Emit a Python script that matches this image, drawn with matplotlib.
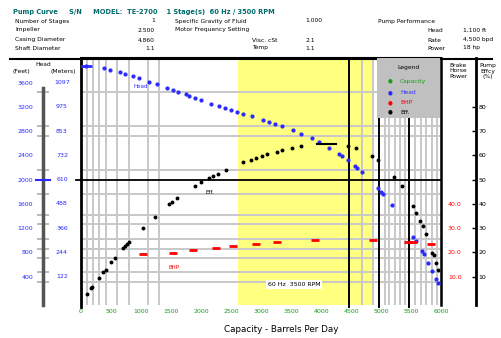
import numpy as np
import matplotlib
matplotlib.use("Agg")
import matplotlib.pyplot as plt
import matplotlib.transforms as mtrans
from matplotlib.patches import Rectangle

# Capacity (bpd) vs head (ft)
head_q = [80, 388, 483, 650, 733, 872, 967, 1133, 1272, 1438, 1538, 1612, 1745,
          1805, 1905, 2000, 2172, 2305, 2405, 2505, 2605, 2708, 2845, 3038, 3138,
          3238, 3345, 3538, 3667, 3845, 3972, 4138, 4305, 4345, 4445, 4567, 4605,
          4678, 4945, 4995, 5038, 5178, 5538, 5578, 5678, 5717, 5788, 5845, 5917, 5955]
head_ft = [3876, 3838, 3810, 3782, 3744, 3711, 3673, 3617, 3579, 3508, 3480, 3452, 3414,
           3377, 3344, 3315, 3250, 3217, 3188, 3151, 3113, 3081, 3052, 2986, 2948,
           2915, 2887, 2821, 2750, 2694, 2618, 2519, 2420, 2392, 2326, 2227, 2189,
           2123, 1859, 1803, 1765, 1584, 1061, 995, 830, 775, 632, 500, 368, 302]

# Efficiency (%)
eff_q = [95, 167, 188, 300, 372, 412, 500, 567, 705, 733, 772, 805, 1038, 1233, 1472,
         1512, 1605, 1900, 2000, 2133, 2205, 2278, 2412, 2705, 2838, 2912, 3012, 3105,
         3262, 3345, 3512, 3667, 4455, 4583, 4845, 4945, 5222, 5345, 5538, 5578, 5650,
         5695, 5750, 5845, 5883, 5917, 5945]
eff_pct = [2.8, 5.2, 5.9, 9.4, 11.8, 12.8, 16.0, 17.6, 21.7, 22.7, 23.5, 24.5, 30.0, 34.8,
           39.9, 40.7, 42.4, 47.4, 48.9, 50.8, 51.5, 52.2, 54.0, 57.2, 58.1, 58.8, 59.8,
           60.6, 61.4, 62.3, 63.0, 63.9, 63.9, 63.0, 59.8, 58.1, 51.3, 47.4, 39.2, 36.4,
           33.1, 30.9, 27.5, 19.9, 19.0, 15.5, 12.8]
bep_q = [3928, 4250]
bep_eff = 64.6

# Brake horsepower
pow_q = [1025, 1533, 1872, 2250, 2538, 2917, 3267, 3908, 4872, 5450, 5525, 5833]
pow_hp = [19.3, 19.9, 20.9, 21.7, 22.6, 23.4, 24.2, 25.0, 25.0, 24.5, 24.5, 23.5]

x_ticks = list(range(0, 6001, 500))
ft_ticks = [400, 800, 1200, 1600, 2000, 2400, 2800, 3200, 3600]
m_labels = ["122", "244", "366", "488", "610", "732", "853", "975", "1097"]
eff_ticks = [10, 20, 30, 40, 50, 60, 70, 80]
pow_ticks = [10, 20, 30, 40]
pow_labels = ["10.0", "20.0", "30.0", "40.0"]

grid_ft = [313, 478, 709, 858, 1023, 1270, 1419, 1765, 2161, 2722, 2887, 3447]
grid_q = [100, 200, 300, 417, 600, 800, 1117, 1300, 4683, 4867, 5067, 5133, 5233,
          5317, 5400, 5567, 5667, 5750, 5850, 5933]
black_q = [4467, 4967, 5467]
yellow_range = (2617, 4867)

W, H = 501, 338
fig = plt.figure(figsize=(W / 100, H / 100), dpi=100)


def px(x, y):
    return x / W, 1 - y / H


ax = fig.add_axes([81 / W, 1 - 305 / H, 360 / W, 247 / H])
ax.set_xlim(0, 6000)
ax.set_ylim(-66, 4008)

ax.axvspan(*yellow_range, color="#ffff80", zorder=0, lw=0)
for g in grid_ft:
    ax.axhline(g, color="#c8c8c8", lw=1.4, zorder=1)
for g in grid_q:
    ax.axvline(g, color="#c8c8c8", lw=1.4, zorder=1)
for g in black_q:
    ax.axvline(g, ymin=-0.01, color="black", lw=1.4, zorder=2, clip_on=False)
ax.axhline(1996, xmin=-0.014, color="black", lw=1.3, zorder=2, clip_on=False)
ax.axvline(0, ymin=-0.01, color="black", lw=2, zorder=3, clip_on=False)

ax.plot(head_q, head_ft, "o", color="#2a2aff", ms=2, zorder=4)
ax.plot(head_q[:1], head_ft[:1], "_", color="#2a2aff", ms=8, mew=2, zorder=4)

# efficiency axis
ae = ax.twinx()
ae.set_ylim(-66 / 40, 4008 / 40)
ae.plot(eff_q, eff_pct, "o", color="black", ms=1.8, zorder=4)
ae.plot(bep_q, [bep_eff, bep_eff], color="black", lw=1.5)
ae.plot(pow_q, pow_hp, "_", color="#ff0000", ms=6, mew=2)
for s in ["left", "top", "bottom"]:
    ae.spines[s].set_visible(False)
ae.spines["right"].set_position(("outward", 35 * 0.72))
ae.spines["right"].set_linewidth(2)
ae.spines["right"].set_bounds(-1.65, 100)
ae.set_yticks(eff_ticks)
ae.set_yticklabels([str(v) for v in eff_ticks])
ae.tick_params(axis="y", direction="in", length=3, width=1, labelsize=4.5, pad=2)

# power labels
ap = ax.twinx()
ap.set_ylim(-66 / 40, 4008 / 40)
for s in ap.spines.values():
    s.set_visible(False)
ap.set_yticks(pow_ticks)
ap.set_yticklabels(pow_labels)
ap.tick_params(axis="y", length=0, labelsize=4.5, labelcolor="#ff0000", pad=5)

# main frame
for s in ["bottom"]:
    ax.spines[s].set_visible(False)
ax.spines["top"].set_linewidth(1.5)
ax.spines["right"].set_linewidth(1.8)
ax.spines["left"].set_position(("outward", 38 * 0.72))
ax.spines["left"].set_color("#555555")
ax.spines["left"].set_linewidth(2.5)
ax.spines["left"].set_bounds(-60, 3520)
ax.set_yticks(ft_ticks)
ax.set_yticklabels([str(v) for v in ft_ticks])
ax.set_yticks(grid_ft + [1996], minor=True)
ax.tick_params(axis="y", which="major", length=0, labelsize=4.5, labelcolor="#2a2aff", pad=7)
ax.tick_params(axis="y", which="minor", direction="inout", length=8, width=1.4, color="#bbbbbb")
ax.set_xticks(x_ticks)
ax.set_xticklabels([str(v) for v in x_ticks])
ax.tick_params(axis="x", length=0, labelsize=4.5, labelcolor="#1a9a1a", pad=3)

tr = mtrans.blended_transform_factory(fig.transFigure, ax.transData)
for v, lab in zip(ft_ticks, m_labels):
    ax.text(62 / W, v, lab, transform=tr, fontsize=4.5, color="#2a2aff",
            ha="center", va="center")
fig.add_artist(plt.Line2D([36 / W, 50 / W], [1 - 180 / H] * 2, color="#2a2aff", lw=1.5))

# annotations inside plot
ax.text(1000, 3530, "Head", fontsize=4, color="#2a2aff", ha="center", va="center")
ax.text(2150, 1790, "Eff.", fontsize=4, color="black", ha="center", va="center")
ax.text(1550, 560, "BHP", fontsize=4, color="#ff0000", ha="center", va="center")
ax.text(3550, 270, "60 Hz  3500 RPM", fontsize=4.5, ha="center", va="center",
        bbox=dict(facecolor="white", edgecolor="none", pad=1.5))

# header
fig.add_artist(plt.Line2D([10 / W, 492 / W], [1 - 59 / H] * 2, color="black", lw=1.5))
fig.text(*px(13, 12), "Pump Curve     S/N     MODEL:  TE-2700    1 Stage(s)  60 Hz / 3500 RPM",
         fontsize=4.8, color="#006a6a", weight="bold", va="center")
rows = [
    ("Number of Stages", "1", "Specific Gravity of Fluid", "1.000", "Pump Performance"),
    ("Impeller", "2.500", "Motor Frequency Setting", "", ""),
    ("Casing Diameter", "4.860", "", "2.1", ""),
    ("Shaft Diameter", "1.1", "", "1.1", ""),
]
ys = [21, 30, 40, 48]
for y, (a, b, c, d, e) in zip(ys, rows):
    fig.text(*px(15, y), a, fontsize=4.3, va="center")
    fig.text(*px(155, y), b, fontsize=4.3, va="center", ha="right")
    if c:
        fig.text(*px(175, y), c, fontsize=4.3, va="center")
    if d:
        fig.text(*px(305, y), d, fontsize=4.3, va="center")
    if e:
        fig.text(*px(378, y), e, fontsize=4.3, va="center")
fig.text(*px(252, 40), "Visc. cSt", fontsize=4.3, va="center")
fig.text(*px(252, 48), "Temp", fontsize=4.3, va="center")
for y, a, b in [(30, "Head", "1,100 ft"), (40, "Rate", "4,500 bpd"), (48, "Power", "18 hp")]:
    fig.text(*px(427, y), a, fontsize=4.3, va="center")
    fig.text(*px(463, y), b, fontsize=4.3, va="center")

# axis headers
fig.text(*px(43, 64), "Head", fontsize=4.3, ha="center", va="center")
fig.text(*px(21, 72), "(Feet)", fontsize=4.3, ha="center", va="center")
fig.text(*px(63, 72), "(Meters)", fontsize=4.3, ha="center", va="center")
fig.text(*px(458, 71), "Brake\nHorse\nPower", fontsize=4.3, ha="center", va="center",
         linespacing=1.1)
fig.text(*px(488, 71), "Pump\nEffcy\n(%)", fontsize=4.3, ha="center", va="center",
         linespacing=1.1)

# legend box
fig.add_artist(Rectangle(px(377, 118), 63 / W, 60 / H, facecolor="#c0c0c0",
                         edgecolor="none", transform=fig.transFigure, zorder=5))
fig.text(*px(408, 67), "Legend", fontsize=4.3, ha="center", va="center", zorder=6)
for y, col, name in [(81, "#1a9a1a", "Capacity"), (93, "#2a2aff", "Head"),
                     (103, "#ff0000", "BHP"), (112, "black", "Eff.")]:
    fig.text(*px(388, y), "\u25cf", fontsize=4, color=col, va="center", zorder=6)
    fig.text(*px(400, y), name, fontsize=4.3, color=col, va="center", zorder=6)

fig.text(*px(281, 330), "Capacity - Barrels Per Day", fontsize=6.3, ha="center", va="center")

fig.savefig("out.png", dpi=100)
